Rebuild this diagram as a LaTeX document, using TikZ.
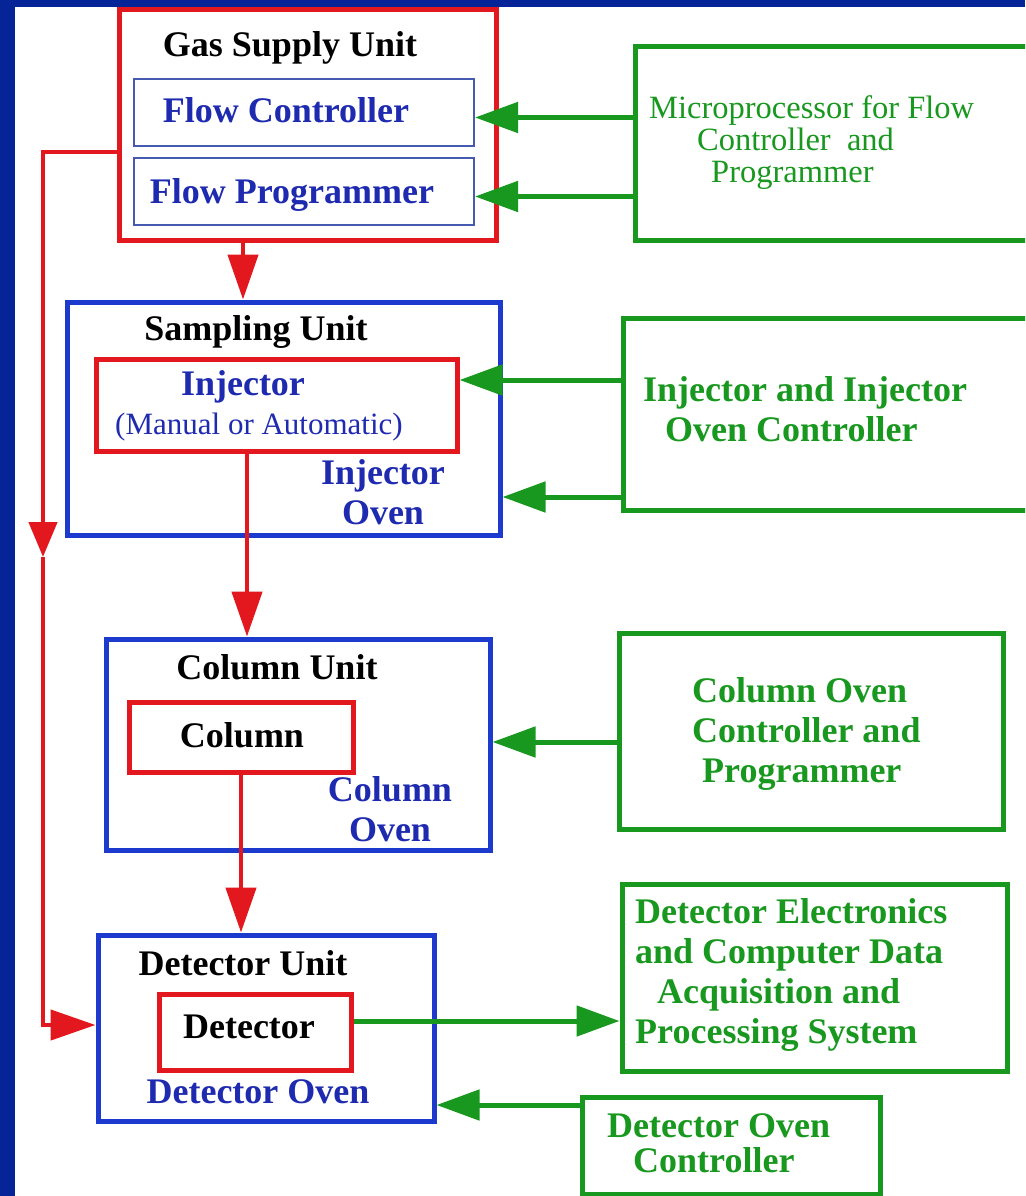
\documentclass[tikz,border=0pt]{standalone}
\usepackage{fontspec}
\setmainfont{Liberation Serif}
\usetikzlibrary{arrows.meta}

\definecolor{gcred}{RGB}{226,24,30}
\definecolor{gcblue}{RGB}{28,58,205}
\definecolor{gctext}{RGB}{30,42,175}
\definecolor{gcthin}{RGB}{70,90,175}
\definecolor{gcgreen}{RGB}{24,152,30}
\definecolor{gcframe}{RGB}{4,36,152}

\begin{document}
\begin{tikzpicture}[x=1pt,y=-1pt,
  box/.style={rectangle,draw,line width=5pt,inner sep=0pt},
  unitbox/.style={box,draw=gcblue},
  partbox/.style={box,draw=gcred},
  ctlbox/.style={box,draw=gcgreen},
  flowbox/.style={rectangle,draw=gcthin,line width=2pt,inner sep=0pt},
  bold/.style={font=\fontsize{36}{40}\selectfont\bfseries,inner sep=0pt,anchor=base},
  title/.style={bold,text=black},
  ovenlabel/.style={bold,text=gctext,align=center},
  ctltext/.style={bold,text=gcgreen,align=left,anchor=base west},
  redarrow/.style={draw=gcred,line width=4.5pt,-{Triangle[length=45pt,width=30pt]}},
  grnarrow/.style={draw=gcgreen,line width=5pt,-{Triangle[length=43pt,width=30pt]}}]
  \useasboundingbox (0,0) rectangle (1025,1196);
  \clip (0,0) rectangle (1025,1196);
  % frame
  \fill[gcframe] (0,0) rectangle (1025,1196);
  \fill[white] (15,7) rectangle (1025,1196);

  % Gas supply unit
  \node[partbox,minimum width=377,minimum height=230] (gas) at (307.5,125) {};
  \node[title] at (290,57) {Gas Supply Unit};
  \node[flowbox,minimum width=340,minimum height=67] (flowctl) at (304,112.5) {};
  \node[bold,text=gctext] at (286,123) {Flow Controller};
  \node[flowbox,minimum width=340,minimum height=67] (flowprog) at (304,191.5) {};
  \node[bold,text=gctext] at (292,203) {Flow Programmer};
  \node[ctlbox,minimum width=400,minimum height=193] (micro) at (835,143.5) {};
  \node[font=\fontsize{32.5}{32}\selectfont,text=gcgreen,align=left,anchor=base west,inner sep=0pt]
    at (649,182) {Microprocessor for Flow\\\hspace*{48pt}Controller\ \ and\\\hspace*{62pt}Programmer};

  % Sampling unit
  \node[unitbox,minimum width=433,minimum height=233] (sampling) at (283.5,418.5) {};
  \node[title] at (256,340) {Sampling Unit};
  \node[partbox,minimum width=361,minimum height=92] (injector) at (276.5,405) {};
  \node[bold,text=gctext] at (243,395) {Injector};
  \node[font=\fontsize{31}{32}\selectfont,text=gctext,anchor=base,inner sep=0pt]
    at (259,434) {(Manual or Automatic)};
  \node[ovenlabel] at (383,524) {Injector\\Oven};
  \node[ctlbox,minimum width=414,minimum height=192] (injctl) at (830,414) {};
  \node[ctltext] at (643,441) {Injector and Injector\\\hspace*{22pt}Oven Controller};

  % Column unit
  \node[unitbox,minimum width=384,minimum height=211] (colunit) at (298,744.5) {};
  \node[title] at (277,679) {Column Unit};
  \node[partbox,minimum width=224,minimum height=70] (column) at (241,737) {};
  \node[title] at (242,747) {Column};
  \node[ovenlabel] at (390,841) {Column\\Oven};
  \node[ctlbox,minimum width=384,minimum height=196] (colctl) at (811,731) {};
  \node[ctltext] at (692,782) {Column Oven\\Controller and\\\hspace*{10pt}Programmer};

  % Detector unit
  \node[unitbox,minimum width=336,minimum height=186] (detunit) at (266,1028) {};
  \node[title] at (243,975) {Detector Unit};
  \node[partbox,minimum width=192,minimum height=76] (detector) at (255,1032) {};
  \node[title] at (249,1038) {Detector};
  \node[bold,text=gctext] at (258,1103) {Detector Oven};
  \node[ctlbox,minimum width=385,minimum height=187] (detctl) at (814.5,977.5) {};
  \node[ctltext] at (635,1043) {Detector Electronics\\and Computer Data\\\hspace*{22pt}Acquisition and\\Processing System};
  \node[ctlbox,minimum width=298,minimum height=97] (ovenctl) at (731,1145.5) {};
  \node[ctltext,font=\fontsize{36}{35}\selectfont\bfseries] at (607,1172) {Detector Oven\\\hspace*{26pt}Controller};

  % control lines
  \coordinate (fcin) at ([yshift=-5pt]flowctl.east);
  \coordinate (fpin) at ([yshift=-5pt]flowprog.east);
  \draw[grnarrow] (micro.west |- fcin) -- (fcin);
  \draw[grnarrow] (micro.west |- fpin) -- (fpin);
  \coordinate (injin) at (injector.east |- 0,380);
  \coordinate (sampin) at (sampling.east |- 0,497);
  \draw[grnarrow] (injctl.west |- injin) -- (injin);
  \draw[grnarrow] (injctl.west |- sampin) -- (sampin);
  \coordinate (colin) at (colunit.east |- 0,742);
  \draw[grnarrow] (colctl.west |- colin) -- (colin);
  \coordinate (detout) at (detector.east |- 0,1021);
  \draw[grnarrow] (detout) -- (detctl.west |- detout);
  \coordinate (ovenin) at (detunit.east |- 0,1105);
  \draw[grnarrow] (ovenctl.west |- ovenin) -- (ovenin);

  % gas flow
  \coordinate (gasout) at (gas.south -| 243,0);
  \draw[redarrow] (gasout) -- (gasout |- sampling.north);
  \coordinate (injout) at (injector.south -| 247,0);
  \draw[redarrow] (injout) -- (injout |- colunit.north);
  \draw[redarrow] (column.south) -- (column.south |- detunit.north);
  \coordinate (fbstart) at (gas.west |- 0,152);
  \coordinate (fbtop) at (43,152);
  \coordinate (fbmid) at (43,557);
  \coordinate (fbbot) at (43,1025);
  \draw[redarrow,-{Triangle[length=35pt,width=28pt]}] (fbstart) -- (fbtop) -- (fbmid);
  \draw[redarrow] (fbmid) -- (fbbot) -- (detunit.west |- fbbot);
\end{tikzpicture}
\end{document}
